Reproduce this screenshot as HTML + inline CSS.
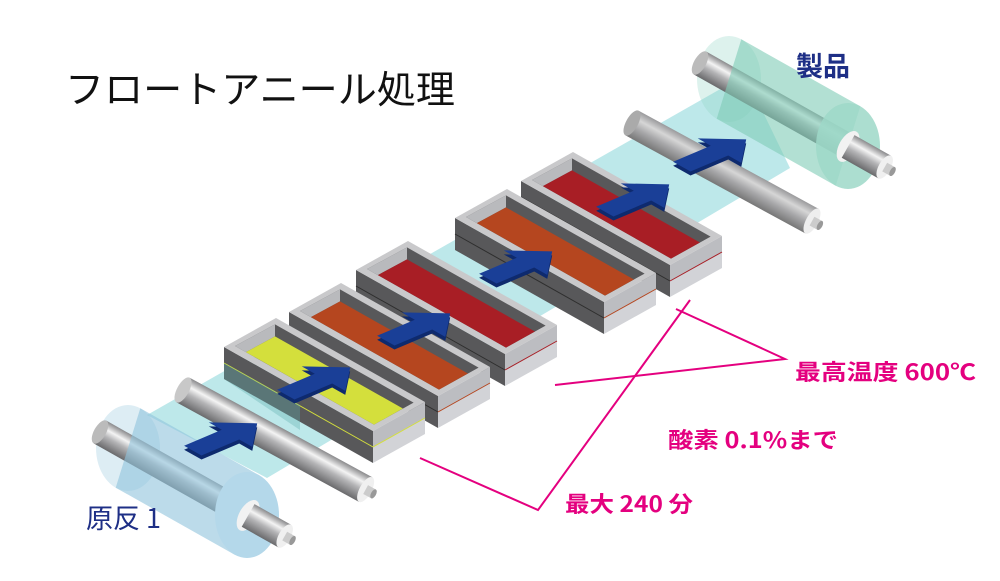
<!DOCTYPE html>
<html><head><meta charset="utf-8"><style>html,body{margin:0;padding:0;background:#fff}svg{display:block}</style></head>
<body>
<svg width="1000" height="581" viewBox="0 0 1000 581" xmlns="http://www.w3.org/2000/svg">
<defs>
<linearGradient id="met" x1="0" y1="0" x2="0" y2="1">
<stop offset="0" stop-color="#8a8a8c"/><stop offset="0.3" stop-color="#f4f4f4"/><stop offset="0.55" stop-color="#b4b4b6"/><stop offset="1" stop-color="#6a6a6c"/></linearGradient>
<linearGradient id="gr" x1="0" y1="0" x2="0" y2="1">
<stop offset="0" stop-color="#9a9a9c"/><stop offset="0.3" stop-color="#d6d6d6"/><stop offset="0.6" stop-color="#a8a8aa"/><stop offset="1" stop-color="#777"/></linearGradient>
</defs>

<!-- film band -->
<polygon points="147,415 745,75 790,168 267,478" fill="#bde8ea"/>

<!-- roller 3 -->
<g transform="translate(632,123) rotate(28.6)">
<rect x="0" y="-14" width="205" height="28" fill="url(#gr)"/>
<ellipse cx="0" cy="0" rx="6" ry="14" fill="#aaa"/>
<ellipse cx="205" cy="0" rx="6" ry="14" fill="#eee"/>
<rect x="205" y="-5" width="9" height="10" fill="#ccc"/><ellipse cx="214" cy="0" rx="2.5" ry="5" fill="#999"/>
</g>

<!-- product roll -->
<ellipse cx="729" cy="79" rx="32" ry="43" fill="#8fd3c2" opacity="0.3"/>
<g transform="translate(700,63) rotate(29.4)">
<rect x="0" y="-13" width="170" height="26" fill="url(#met)"/>
<ellipse cx="0" cy="0" rx="6" ry="13" fill="#bbb"/>
</g>
<polygon points="741.3,39.3 860.3,106.3 835.7,185.7 716.7,118.7" fill="#7fcbb6" opacity="0.6"/>
<ellipse cx="848" cy="146" rx="32" ry="43" fill="#9ed8c8" opacity="0.85"/>
<g transform="translate(700,63) rotate(29.4)">
<ellipse cx="170" cy="0" rx="9" ry="17" fill="#f2f2f2"/>
<rect x="170" y="-13" width="42" height="26" fill="url(#met)"/>
<ellipse cx="212" cy="0" rx="6" ry="13" fill="#f0f0f0"/>
<rect x="212" y="-5" width="9" height="10" fill="#ccc"/><ellipse cx="221" cy="0" rx="2.5" ry="5" fill="#999"/>
</g>

<!-- box 5 red -->
<g transform="translate(521,181)">
<polygon points="0,0 149,84 149,116 0,32" fill="#58585a"/>
<line x1="0" y1="16" x2="149" y2="100" stroke="#2e2e2e" stroke-width="1"/>
<polygon points="149,84 201,55 201,71 149,100" fill="#bcbdc1"/>
<polygon points="149,100 201,71 201,87 149,116" fill="#d2d3d7"/>
<line x1="149" y1="100" x2="201" y2="71" stroke="#a81e25" stroke-width="1"/>
<polygon points="0,0 52,-29 201,55 149,84" fill="#c9c9cb"/>
<polygon points="11,-1 51,-22.6 189.6,55.6 150,77.6" fill="#58585a"/>
<polygon points="11,-1 51,-22.6 51,-10.6 21.9,5.1" fill="#b9babd"/>
<polygon points="21.9,5.1 51,-10.6 178.9,61.5 150,77.6" fill="#a81e25"/>
</g>
<!-- box 4 orange -->
<g transform="translate(455,218)">
<polygon points="0,0 149,84 149,116 0,32" fill="#58585a"/>
<line x1="0" y1="16" x2="149" y2="100" stroke="#2e2e2e" stroke-width="1"/>
<polygon points="149,84 201,55 201,71 149,100" fill="#bcbdc1"/>
<polygon points="149,100 201,71 201,87 149,116" fill="#d2d3d7"/>
<line x1="149" y1="100" x2="201" y2="71" stroke="#b5461f" stroke-width="1"/>
<polygon points="0,0 52,-29 201,55 149,84" fill="#c9c9cb"/>
<polygon points="11,-1 51,-22.6 189.6,55.6 150,77.6" fill="#58585a"/>
<polygon points="11,-1 51,-22.6 51,-10.6 21.9,5.1" fill="#b9babd"/>
<polygon points="21.9,5.1 51,-10.6 178.9,61.5 150,77.6" fill="#b5461f"/>
</g>
<!-- box 3 red -->
<g transform="translate(356,270)">
<polygon points="0,0 149,84 149,116 0,32" fill="#58585a"/>
<line x1="0" y1="16" x2="149" y2="100" stroke="#2e2e2e" stroke-width="1"/>
<polygon points="149,84 201,55 201,71 149,100" fill="#bcbdc1"/>
<polygon points="149,100 201,71 201,87 149,116" fill="#d2d3d7"/>
<line x1="149" y1="100" x2="201" y2="71" stroke="#a81e25" stroke-width="1"/>
<polygon points="0,0 52,-29 201,55 149,84" fill="#c9c9cb"/>
<polygon points="11,-1 51,-22.6 189.6,55.6 150,77.6" fill="#58585a"/>
<polygon points="11,-1 51,-22.6 51,-10.6 21.9,5.1" fill="#b9babd"/>
<polygon points="21.9,5.1 51,-10.6 178.9,61.5 150,77.6" fill="#a81e25"/>
</g>
<!-- box 2 orange -->
<g transform="translate(289,312)">
<polygon points="0,0 149,84 149,116 0,32" fill="#58585a"/>
<line x1="0" y1="16" x2="149" y2="100" stroke="#2e2e2e" stroke-width="1"/>
<polygon points="149,84 201,55 201,71 149,100" fill="#bcbdc1"/>
<polygon points="149,100 201,71 201,87 149,116" fill="#d2d3d7"/>
<line x1="149" y1="100" x2="201" y2="71" stroke="#b5461f" stroke-width="1"/>
<polygon points="0,0 52,-29 201,55 149,84" fill="#c9c9cb"/>
<polygon points="11,-1 51,-22.6 189.6,55.6 150,77.6" fill="#58585a"/>
<polygon points="11,-1 51,-22.6 51,-10.6 21.9,5.1" fill="#b9babd"/>
<polygon points="21.9,5.1 51,-10.6 178.9,61.5 150,77.6" fill="#b5461f"/>
</g>
<!-- box 1 yellow -->
<g transform="translate(224,347)">
<polygon points="0,0 149,84 149,116 0,32" fill="#58585a"/>
<line x1="0" y1="16" x2="149" y2="100" stroke="#d4df3c" stroke-width="1"/>
<polygon points="149,84 201,55 201,71 149,100" fill="#bcbdc1"/>
<polygon points="149,100 201,71 201,87 149,116" fill="#d2d3d7"/>
<line x1="149" y1="100" x2="201" y2="71" stroke="#d4df3c" stroke-width="1"/>
<polygon points="0,0 52,-29 201,55 149,84" fill="#c9c9cb"/>
<polygon points="11,-1 51,-22.6 189.6,55.6 150,77.6" fill="#58585a"/>
<polygon points="11,-1 51,-22.6 51,-10.6 21.9,5.1" fill="#b9babd"/>
<polygon points="21.9,5.1 51,-10.6 178.9,61.5 150,77.6" fill="#d4df3c"/>
</g>
<polygon points="224,363 300,405 300,430 224,379" fill="#5fb0b0" opacity="0.35"/>

<!-- roller 2 -->
<g transform="translate(183,390) rotate(28.6)">
<rect x="0" y="-14" width="208" height="28" fill="url(#met)"/>
<ellipse cx="0" cy="0" rx="6" ry="14" fill="#c8c8c8"/>
<ellipse cx="208" cy="0" rx="6" ry="14" fill="#f0f0f0"/>
<rect x="208" y="-5" width="9" height="10" fill="#ccc"/><ellipse cx="217" cy="0" rx="2.5" ry="5" fill="#999"/>
</g>

<!-- roll 1 -->
<ellipse cx="128" cy="448" rx="32" ry="43" fill="#8fc3dc" opacity="0.3"/>
<g transform="translate(100,432) rotate(29.4)">
<rect x="0" y="-13" width="170" height="26" fill="url(#met)"/>
<ellipse cx="0" cy="0" rx="6" ry="13" fill="#bbb"/>
</g>
<polygon points="140.3,408.3 259.3,475.3 234.7,554.7 115.7,487.7" fill="#8fc3dc" opacity="0.6"/>
<ellipse cx="247" cy="515" rx="32" ry="43" fill="#b4d8ea"/>
<g transform="translate(100,432) rotate(29.4)">
<ellipse cx="170" cy="0" rx="9" ry="17" fill="#f2f2f2"/>
<rect x="170" y="-13" width="42" height="26" fill="url(#met)"/>
<ellipse cx="212" cy="0" rx="6" ry="13" fill="#f0f0f0"/>
<rect x="212" y="-5" width="9" height="10" fill="#ccc"/><ellipse cx="221" cy="0" rx="2.5" ry="5" fill="#999"/>
</g>

<!-- arrows -->
<g fill="#0e2a6e">
<path transform="matrix(0.92,-0.39,0.87,0.49,225,441)" d="M-35,-10 L6,-10 L6,-25 L35,0 L6,25 L6,10 L-35,10 Z"/>
<path transform="matrix(0.92,-0.39,0.87,0.49,318,385)" d="M-35,-10 L6,-10 L6,-25 L35,0 L6,25 L6,10 L-35,10 Z"/>
<path transform="matrix(0.92,-0.39,0.87,0.49,418,331)" d="M-35,-10 L6,-10 L6,-25 L35,0 L6,25 L6,10 L-35,10 Z"/>
<path transform="matrix(0.92,-0.39,0.87,0.49,520,269)" d="M-35,-10 L6,-10 L6,-25 L35,0 L6,25 L6,10 L-35,10 Z"/>
<path transform="matrix(0.92,-0.39,0.87,0.49,637,202)" d="M-35,-10 L6,-10 L6,-25 L35,0 L6,25 L6,10 L-35,10 Z"/>
<path transform="matrix(0.92,-0.39,0.87,0.49,714,157)" d="M-35,-10 L6,-10 L6,-25 L35,0 L6,25 L6,10 L-35,10 Z"/>
</g>
<g fill="#1a3f97">
<path transform="matrix(0.92,-0.39,0.87,0.49,225,437)" d="M-35,-10 L6,-10 L6,-25 L35,0 L6,25 L6,10 L-35,10 Z"/>
<path transform="matrix(0.92,-0.39,0.87,0.49,318,381)" d="M-35,-10 L6,-10 L6,-25 L35,0 L6,25 L6,10 L-35,10 Z"/>
<path transform="matrix(0.92,-0.39,0.87,0.49,418,327)" d="M-35,-10 L6,-10 L6,-25 L35,0 L6,25 L6,10 L-35,10 Z"/>
<path transform="matrix(0.92,-0.39,0.87,0.49,520,265)" d="M-35,-10 L6,-10 L6,-25 L35,0 L6,25 L6,10 L-35,10 Z"/>
<path transform="matrix(0.92,-0.39,0.87,0.49,637,198)" d="M-35,-10 L6,-10 L6,-25 L35,0 L6,25 L6,10 L-35,10 Z"/>
<path transform="matrix(0.92,-0.39,0.87,0.49,714,153)" d="M-35,-10 L6,-10 L6,-25 L35,0 L6,25 L6,10 L-35,10 Z"/>
</g>

<!-- pink lines -->
<g stroke="#e4007f" stroke-width="2" fill="none">
<polyline points="420,458 538,510 690,300"/>
<polyline points="555,385 785,359 676,309"/>
</g>

<!-- text -->
<g font-family="'Noto Sans CJK JP','Liberation Sans',sans-serif">
<text x="65" y="103" font-size="38" fill="#111" textLength="390" lengthAdjust="spacingAndGlyphs">フロートアニール処理</text>
<text x="796" y="76" font-size="27" font-weight="bold" fill="#1e2f86">製品</text>
<text x="86" y="528" font-size="27" fill="#1e2f86">原反 1</text>
<text x="795" y="380" font-size="22" font-weight="bold" fill="#e4007f" textLength="181" lengthAdjust="spacingAndGlyphs">最高温度 600℃</text>
<text x="668" y="448" font-size="22" font-weight="bold" fill="#e4007f" textLength="170" lengthAdjust="spacingAndGlyphs">酸素 0.1%まで</text>
<text x="565" y="512" font-size="22" font-weight="bold" fill="#e4007f" textLength="128" lengthAdjust="spacingAndGlyphs">最大 240 分</text>
</g>
</svg>
</body></html>
